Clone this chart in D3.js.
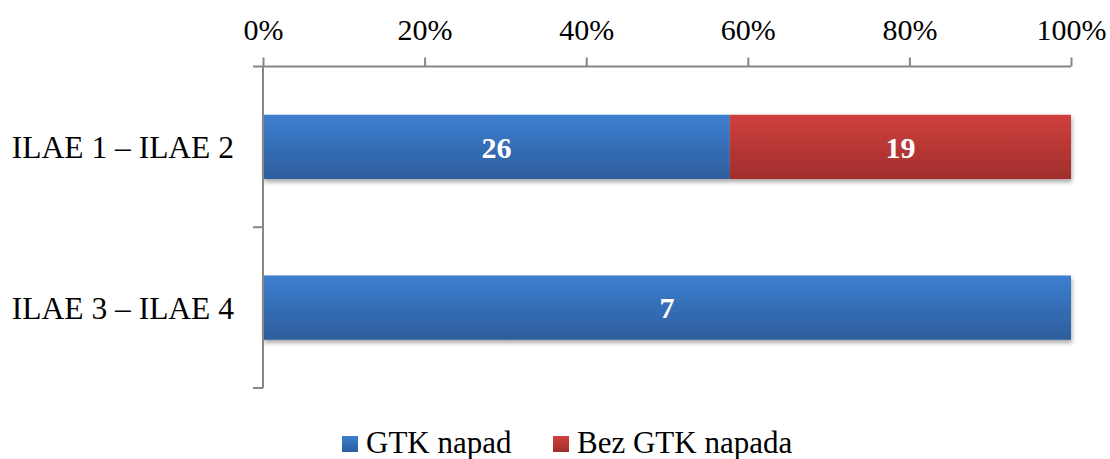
<!DOCTYPE html>
<html>
<head>
<meta charset="utf-8">
<script src="https://cdn.jsdelivr.net/npm/d3@7"></script>
<style>
  html, body { margin: 0; padding: 0; background: #fff; }
  svg { display: block; }
  text { font-family: "Liberation Serif", "Times New Roman", serif; }
</style>
</head>
<body>
<svg id="chart" width="1110" height="459"></svg>
<script>
const categories = ["ILAE 1 – ILAE 2", "ILAE 3 – ILAE 4"];
const seriesNames = ["GTK napad", "Bez GTK napada"];
const gtkValues = [26, 7];
const bezGtkValues = [19, 0];
const tickValues = [0, 0.2, 0.4, 0.6, 0.8, 1.0];

(function () {
const svg = d3.select("#chart");
const pLeft = 263, pRight = 1071, pTop = 66.5, pBottom = 388;

const x = d3.scaleLinear().domain([0, 1]).range([pLeft, pRight]);
const y = d3.scaleBand().domain(categories).range([pTop, pBottom]).paddingInner(0.6).paddingOuter(0.3);

const defs = svg.append("defs");
const grads = [
  {id: "gBlue", c1: "#3d7fd0", c2: "#2d5d9c"},
  {id: "gRed", c1: "#d0413e", c2: "#a02e2c"}
];
grads.forEach(g => {
  const lg = defs.append("linearGradient").attr("id", g.id).attr("x1", 0).attr("y1", 0).attr("x2", 0).attr("y2", 1);
  lg.append("stop").attr("offset", "0%").attr("stop-color", g.c1);
  lg.append("stop").attr("offset", "100%").attr("stop-color", g.c2);
});
const f = defs.append("filter").attr("id", "shadow").attr("x", "-5%").attr("y", "-20%").attr("width", "110%").attr("height", "160%");
f.append("feDropShadow").attr("dx", 1).attr("dy", 3).attr("stdDeviation", 2).attr("flood-color", "#000").attr("flood-opacity", 0.35);

const rows = categories.map((c, i) => {
  const total = gtkValues[i] + bezGtkValues[i];
  return {cat: c, segs: [
    {v: gtkValues[i], x0: 0, x1: gtkValues[i] / total, fill: "url(#gBlue)"},
    {v: bezGtkValues[i], x0: gtkValues[i] / total, x1: 1, fill: "url(#gRed)"}
  ].filter(s => s.v > 0)};
});

const barG = svg.append("g");
rows.forEach(r => {
  const g = barG.append("g").attr("filter", "url(#shadow)");
  g.selectAll("rect").data(r.segs).join("rect")
    .attr("x", d => x(d.x0))
    .attr("y", y(r.cat))
    .attr("width", d => x(d.x1) - x(d.x0))
    .attr("height", y.bandwidth())
    .attr("fill", d => d.fill);
});
rows.forEach(r => {
  barG.append("g").selectAll("text").data(r.segs).join("text")
    .attr("x", d => (x(d.x0) + x(d.x1)) / 2)
    .attr("y", y(r.cat) + y.bandwidth() / 2)
    .attr("dy", "0.36em")
    .attr("text-anchor", "middle")
    .attr("font-weight", "bold")
    .attr("font-size", "30px")
    .attr("fill", "#fff")
    .text(d => d.v);
});

// top axis
const xAxis = d3.axisTop(x).tickValues(tickValues).tickFormat(d3.format(".0%")).tickSize(9).tickPadding(18);
const gx = svg.append("g").attr("transform", `translate(0,${pTop})`).call(xAxis);
gx.attr("font-family", null);
gx.select(".domain").attr("stroke", "#868686").attr("stroke-width", 2).attr("d", `M${pLeft - 10},0H${pRight}`);
gx.selectAll(".tick line").attr("stroke", "#868686").attr("stroke-width", 2);
gx.selectAll(".tick text").attr("font-size", "30px").attr("fill", "#000");

// left axis
const gy = svg.append("g").attr("transform", `translate(${pLeft},0)`);
gy.append("line").attr("x1", 0).attr("x2", 0).attr("y1", pTop).attr("y2", pBottom).attr("stroke", "#868686").attr("stroke-width", 2);
const bounds = [pTop + (pBottom - pTop) / 2, pBottom];
gy.selectAll(".bt").data(bounds).join("line").attr("class", "bt")
  .attr("x1", -10).attr("x2", 0).attr("y1", d => d).attr("y2", d => d)
  .attr("stroke", "#868686").attr("stroke-width", 2);
gy.selectAll(".cl").data(categories).join("text").attr("class", "cl")
  .attr("x", -29).attr("y", d => y(d) + y.bandwidth() / 2).attr("dy", "0.35em")
  .attr("text-anchor", "end").attr("font-size", "31.5px").attr("fill", "#000")
  .text(d => d);

// legend
const legend = svg.append("g");
const legItems = [
  {name: seriesNames[0], fill: "url(#gBlue)", lx: 342},
  {name: seriesNames[1], fill: "url(#gRed)", lx: 553}
];
legItems.forEach(it => {
  legend.append("rect").attr("x", it.lx).attr("y", 436).attr("width", 16).attr("height", 16).attr("fill", it.fill);
  legend.append("text").attr("x", it.lx + 24).attr("y", 453).attr("font-size", "31px").attr("fill", "#000").text(it.name);
});
})();
</script>
</body>
</html>
